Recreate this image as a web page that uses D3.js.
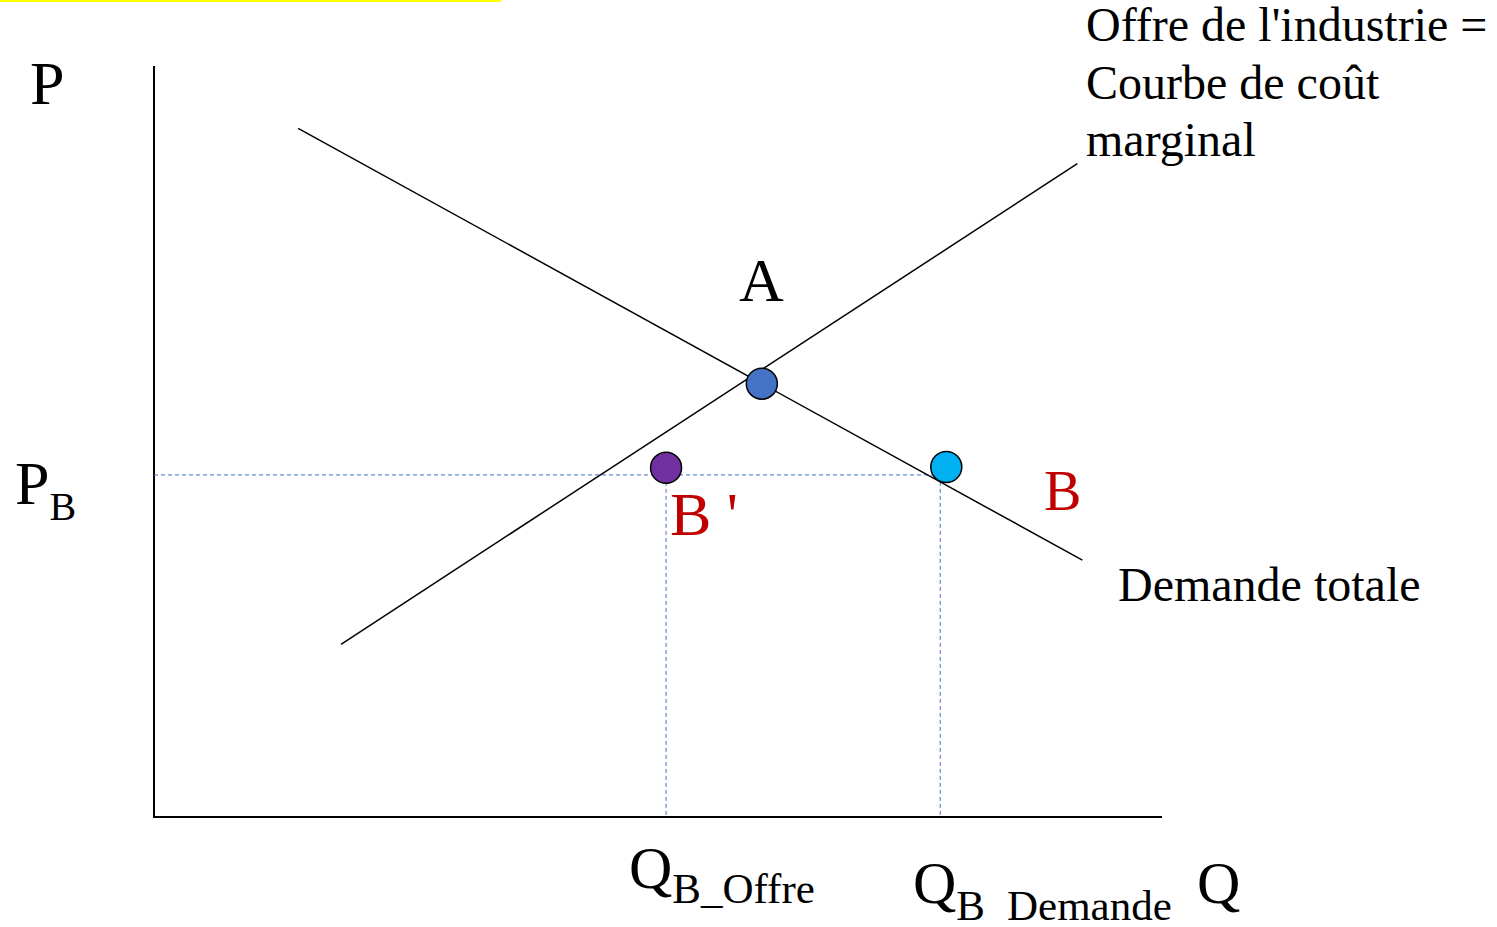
<!DOCTYPE html>
<html>
<head>
<meta charset="utf-8">
<script src="https://cdn.jsdelivr.net/npm/d3@7"></script>
<style>
  body { margin: 0; background: #fff; }
  text { font-family: "Liberation Serif", "Times New Roman", serif; }
</style>
</head>
<body>
<div class="canvas_area"></div>
<script>
// DATA (chart units, 0..100 on both axes)
const demandLine = [[14.3, 91.7], [92.1, 34.2]];
const supplyLine = [[18.55, 23.0], [91.6, 87.0]];
const pointNames = ["A", "B'", "B"];
const pointX = [60.3, 50.8, 78.6];
const pointY = [57.7, 46.5, 46.6];
const pointColors = ["#4472C4", "#7030A0", "#00B0F0"];
const priceB = 45.55;
const qOffre = 50.8;
const qDemande = 78.0;

// SIZES
const svgwidth = 1497;
const svgheight = 927;

const svg = d3.select(".canvas_area").append("svg")
    .attr("width", svgwidth)
    .attr("height", svgheight);

// yellow strip top left
svg.append("rect").attr("x", 0).attr("y", 0).attr("width", 501).attr("height", 2).style("fill", "#FFFF00");

// SCALES
const X = d3.scaleLinear().domain([0, 100]).range([154, 1162]);
const Y = d3.scaleLinear().domain([0, 100]).range([817, 66]);

// AXES (plain lines, no ticks)
svg.append("line")
    .attr("x1", X(0)).attr("y1", Y(100)).attr("x2", X(0)).attr("y2", Y(0))
    .style("stroke", "black").style("stroke-width", 2);
svg.append("line")
    .attr("x1", X(0) - 1).attr("y1", Y(0)).attr("x2", X(100)).attr("y2", Y(0))
    .style("stroke", "black").style("stroke-width", 2);

// DASHED GUIDES
const guides = [
    [[0, priceB], [qDemande, priceB]],
    [[qOffre, priceB], [qOffre, 0]],
    [[qDemande, priceB], [qDemande, 0]]
];
const line = d3.line().x(d => X(d[0])).y(d => Y(d[1]));
svg.selectAll(".guide").data(guides).enter().append("path").classed("guide", true)
    .attr("d", line)
    .style("fill", "none")
    .style("stroke", "#4472C4")
    .style("stroke-width", 1)
    .style("stroke-dasharray", "4,3");

// CURVES
svg.selectAll(".curve").data([demandLine, supplyLine]).enter().append("path").classed("curve", true)
    .attr("d", line)
    .style("fill", "none")
    .style("stroke", "black")
    .style("stroke-width", 1.5);

// POINTS
svg.selectAll(".pt").data(pointNames).enter().append("circle").classed("pt", true)
    .attr("cx", (d, i) => X(pointX[i]))
    .attr("cy", (d, i) => Y(pointY[i]))
    .attr("r", 15.5)
    .style("fill", (d, i) => pointColors[i])
    .style("stroke", "black")
    .style("stroke-width", 1.5);

// LABELS
function label(x, y, size, txt, color) {
    return svg.append("text")
        .attr("x", x).attr("y", y)
        .style("font-size", size + "px")
        .style("fill", color || "black")
        .text(txt);
}

label(30, 104, 62, "P");
const pb = svg.append("text").attr("x", 15).attr("y", 504).style("font-size", "62px");
pb.append("tspan").text("P");
pb.append("tspan").attr("dy", 16).style("font-size", "40px").text("B");

label(739, 301, 62, "A");
label(1044, 510, 56, "B", "#C00000");
label(670, 535, 62, "B '", "#C00000");

const offre = svg.append("text").style("font-size", "48px");
["Offre de l'industrie =", "Courbe de coût", "marginal"].forEach((t, i) => {
    offre.append("tspan").attr("x", 1086).attr("y", 41 + i * 57.5).text(t);
});
label(1118, 601, 48, "Demande totale");

const qo = svg.append("text").attr("x", 629).attr("y", 888).style("font-size", "60px");
qo.append("tspan").text("Q");
qo.append("tspan").attr("dy", 15).style("font-size", "43px").text("B_Offre");

const qd = svg.append("text").attr("x", 913).attr("y", 903).style("font-size", "60px");
qd.append("tspan").text("Q");
qd.append("tspan").attr("dy", 17).style("font-size", "43px").text("B");
qd.append("tspan").attr("dx", 22).style("font-size", "43px").text("Demande");

label(1197, 903, 60, "Q");
</script>
</body>
</html>
